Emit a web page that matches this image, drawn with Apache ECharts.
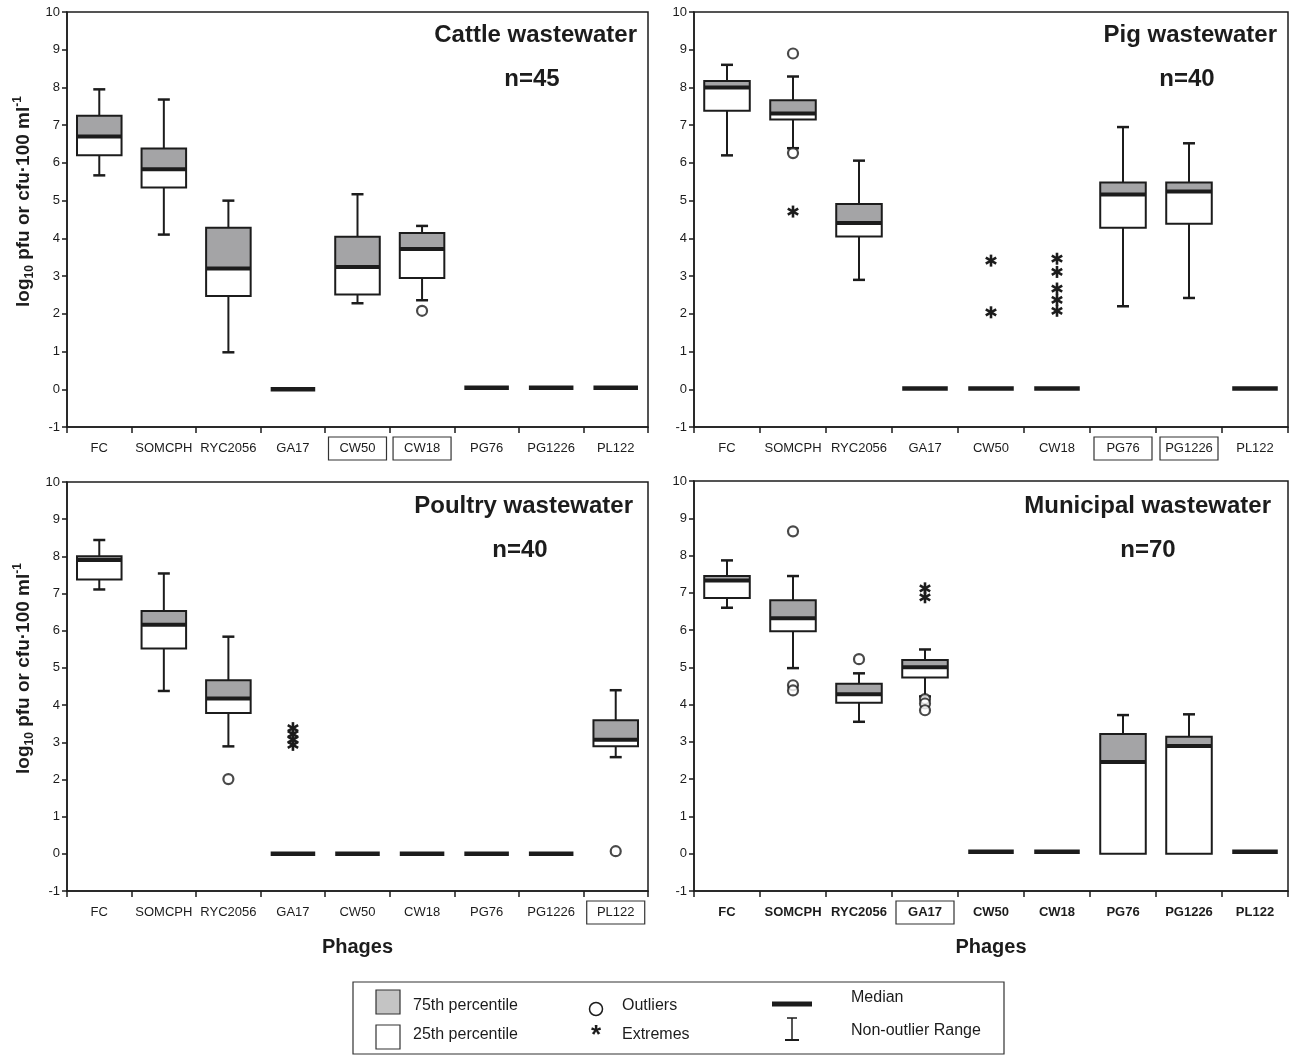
<!DOCTYPE html>
<html><head><meta charset="utf-8">
<script src="https://cdn.jsdelivr.net/npm/echarts@6/dist/echarts.min.js"></script>
<style>html,body{margin:0;padding:0;background:#fff}#c{width:1290px;height:1056px}</style>
</head><body><div id="c"></div>
<script>
const categories = ['FC','SOMCPH','RYC2056','GA17','CW50','CW18','PG76','PG1226','PL122'];

// each box: [lowerWhisker, 25th percentile, median, 75th percentile, upperWhisker]
const cattleBoxes = [
  [5.67,6.20,6.70,7.25,7.95],
  [4.10,5.35,5.83,6.38,7.68],
  [0.98,2.47,3.20,4.28,5.00],
  [0,0,0,0,0],
  [2.28,2.51,3.24,4.04,5.17],
  [2.36,2.95,3.72,4.14,4.33],
  [0.04,0.04,0.04,0.04,0.04],
  [0.04,0.04,0.04,0.04,0.04],
  [0.04,0.04,0.04,0.04,0.04]
];
const cattleOutliers = [[5,2.08]];
const cattleExtremes = [];

const pigBoxes = [
  [6.20,7.38,8.00,8.17,8.60],
  [6.39,7.15,7.31,7.66,8.29],
  [2.90,4.05,4.41,4.91,6.06],
  [0.02,0.02,0.02,0.02,0.02],
  [0.02,0.02,0.02,0.02,0.02],
  [0.02,0.02,0.02,0.02,0.02],
  [2.20,4.28,5.16,5.48,6.95],
  [2.42,4.39,5.24,5.48,6.52],
  [0.02,0.02,0.02,0.02,0.02]
];
const pigOutliers = [[1,8.90],[1,6.26]];
const pigExtremes = [[1,4.71],[4,3.41],[4,2.04],[5,3.46],[5,3.11],[5,2.67],[5,2.37],[5,2.08]];

const poultryBoxes = [
  [7.11,7.38,7.90,8.00,8.44],
  [4.38,5.52,6.16,6.53,7.54],
  [2.89,3.79,4.18,4.67,5.84],
  [0,0,0,0,0],
  [0,0,0,0,0],
  [0,0,0,0,0],
  [0,0,0,0,0],
  [0,0,0,0,0],
  [2.60,2.89,3.07,3.59,4.40]
];
const poultryOutliers = [[2,2.01],[8,0.07]];
const poultryExtremes = [[3,3.38],[3,3.22],[3,3.07],[3,2.93]];

const municipalBoxes = [
  [6.60,6.86,7.33,7.45,7.87],
  [4.98,5.97,6.32,6.80,7.45],
  [3.54,4.05,4.28,4.56,4.84],
  [4.22,4.73,5.00,5.20,5.48],
  [0.05,0.05,0.05,0.05,0.05],
  [0.05,0.05,0.05,0.05,0.05],
  [0,0,2.46,3.21,3.72],
  [0,0,2.89,3.14,3.74],
  [0.05,0.05,0.05,0.05,0.05]
];
const municipalOutliers = [[1,8.65],[1,4.52],[1,4.38],[2,5.22],[3,4.15],[3,4.03],[3,3.85]];
const municipalExtremes = [[3,7.12],[3,6.88]];

const panelTitles = ['Cattle wastewater','Pig wastewater','Poultry wastewater','Municipal wastewater'];
const panelN = ['n=45','n=40','n=40','n=70'];
const boxedLabels = [['CW50','CW18'],['PG76','PG1226'],['PL122'],['GA17']];
const legendTexts = ['75th percentile','25th percentile','Outliers','Extremes','Median','Non-outlier Range'];

const FONT = '"Liberation Sans", Arial, Helvetica, sans-serif';
const INK = '#1c1c1c';
const GRAY = '#a4a4a6';

const panels = [
  {boxes:cattleBoxes, out:cattleOutliers, ext:cattleExtremes, grid:{left:67,top:12,width:581,height:415}, yTitle:true, xTitle:false, boldX:false},
  {boxes:pigBoxes, out:pigOutliers, ext:pigExtremes, grid:{left:694,top:12,width:594,height:415}, yTitle:false, xTitle:false, boldX:false},
  {boxes:poultryBoxes, out:poultryOutliers, ext:poultryExtremes, grid:{left:67,top:482,width:581,height:409}, yTitle:true, xTitle:true, boldX:false},
  {boxes:municipalBoxes, out:municipalOutliers, ext:municipalExtremes, grid:{left:694,top:481,width:594,height:410}, yTitle:false, xTitle:true, boldX:true}
];

function renderBox(params, api){
  const i = api.value(0);
  const lo = api.value(1), q1 = api.value(2), md = api.value(3), q3 = api.value(4), hi = api.value(5);
  const cw = api.size([1,0])[0];
  const w = cw*0.69;
  const cx = api.coord([i,0])[0];
  const Y = v => api.coord([i,v])[1];
  const x0 = cx - w/2;
  const ch = [];
  const ls = {stroke:INK, lineWidth:2};
  const cap = 6;
  if (q3 > q1 || md > q1) {
    if (hi > q3) {
      ch.push({type:'line', shape:{x1:cx,y1:Y(q3),x2:cx,y2:Y(hi)}, style:ls});
      ch.push({type:'line', shape:{x1:cx-cap,y1:Y(hi),x2:cx+cap,y2:Y(hi)}, style:{stroke:INK, lineWidth:2.5}});
    }
    if (lo < q1) {
      ch.push({type:'line', shape:{x1:cx,y1:Y(q1),x2:cx,y2:Y(lo)}, style:ls});
      ch.push({type:'line', shape:{x1:cx-cap,y1:Y(lo),x2:cx+cap,y2:Y(lo)}, style:{stroke:INK, lineWidth:2.5}});
    }
    ch.push({type:'rect', shape:{x:x0,y:Y(q3),width:w,height:Y(md)-Y(q3)}, style:{fill:GRAY, stroke:null}});
    ch.push({type:'rect', shape:{x:x0,y:Y(md),width:w,height:Y(q1)-Y(md)}, style:{fill:'#fff', stroke:null}});
    ch.push({type:'rect', shape:{x:x0,y:Y(q3),width:w,height:Y(q1)-Y(q3)}, style:{fill:null, stroke:INK, lineWidth:2}});
    ch.push({type:'line', shape:{x1:x0,y1:Y(md),x2:x0+w,y2:Y(md)}, style:{stroke:INK, lineWidth:4}});
  } else {
    ch.push({type:'line', shape:{x1:x0,y1:Y(md),x2:x0+w,y2:Y(md)}, style:{stroke:INK, lineWidth:4.5}});
  }
  return {type:'group', children:ch};
}

function renderStar(params, api){
  const p = api.coord([api.value(0), api.value(1)]);
  const r = 6;
  const c = Math.cos(Math.PI/6)*r, s = Math.sin(Math.PI/6)*r;
  const st = {stroke:INK, lineWidth:2.6};
  return {type:'group', x:p[0], y:p[1], children:[
    {type:'line', shape:{x1:0,y1:-r,x2:0,y2:r}, style:st},
    {type:'line', shape:{x1:-c,y1:-s,x2:c,y2:s}, style:st},
    {type:'line', shape:{x1:-c,y1:s,x2:c,y2:-s}, style:st}
  ]};
}

const grid = [], xAxis = [], yAxis = [], series = [], graphic = [];
panels.forEach((p, k) => {
  grid.push(Object.assign({show:true, borderColor:INK, borderWidth:1.5, backgroundColor:'transparent'}, p.grid));
  const boxed = boxedLabels[k];
  xAxis.push({
    type:'category', gridIndex:k, data:categories, boundaryGap:true,
    axisLine:{onZero:false, lineStyle:{color:INK, width:1.5}},
    axisTick:{show:true, interval:0, length:6, lineStyle:{color:INK, width:1.5}},
    axisLabel:{interval:0, margin:10, color:INK,
      formatter: v => boxed.includes(v) ? '{b|'+v+'}' : '{n|'+v+'}',
      rich:{
        n:{fontFamily:FONT, fontSize:13, fontWeight:p.boldX?'bold':'normal', color:INK, padding:[5,0,5,0]},
        b:{fontFamily:FONT, fontSize:13, fontWeight:p.boldX?'bold':'normal', color:INK, padding:[5,2,5,2], width:54, align:'center', borderColor:'#333', borderWidth:1.2}
      }},
    name: p.xTitle ? 'Phages' : '', nameLocation:'middle', nameGap:46,
    nameTextStyle:{fontFamily:FONT, fontSize:20, fontWeight:'bold', color:INK}
  });
  yAxis.push({
    type:'value', gridIndex:k, min:-1, max:10, interval:1,
    splitLine:{show:false},
    axisLine:{show:true, lineStyle:{color:INK, width:1.5}},
    axisTick:{show:true, length:5, lineStyle:{color:INK, width:1.5}},
    axisLabel:{fontFamily:FONT, fontSize:13, color:INK, margin:7},
    name: p.yTitle ? '{a|log}{s|10}{a| pfu or cfu·100 ml}{p|-1}' : '',
    nameLocation:'middle', nameGap:31, nameRotate:90,
    nameTextStyle:{padding:[0,0,0,36], rich:{
      a:{fontFamily:FONT, fontSize:19, fontWeight:'bold', color:INK, lineHeight:24},
      s:{fontFamily:FONT, fontSize:12, fontWeight:'bold', color:INK, verticalAlign:'bottom', lineHeight:24},
      p:{fontFamily:FONT, fontSize:12, fontWeight:'bold', color:INK, verticalAlign:'top', lineHeight:24}
    }}
  });
  series.push({
    type:'custom', xAxisIndex:k, yAxisIndex:k, renderItem:renderBox,
    encode:{x:0, y:[1,2,3,4,5]},
    data:p.boxes.map((b,i)=>[i].concat(b)), z:2
  });
  series.push({
    type:'scatter', xAxisIndex:k, yAxisIndex:k, symbol:'circle', symbolSize:10,
    itemStyle:{color:'#fff', borderColor:INK, borderWidth:2.2},
    data:p.out, z:3
  });
  series.push({
    type:'custom', xAxisIndex:k, yAxisIndex:k, renderItem:renderStar,
    encode:{x:0, y:1}, data:p.ext, z:3
  });
});

// panel titles and sample sizes
const titlePos = [
  {tx:637, ty:35, nx:532, ny:79},
  {tx:1277, ty:35, nx:1187, ny:79},
  {tx:633, ty:506, nx:520, ny:550},
  {tx:1271, ty:506, nx:1148, ny:550}
];
titlePos.forEach((t,k)=>{
  graphic.push({type:'text', x:t.tx, y:t.ty, style:{text:panelTitles[k], font:'bold 24px '+FONT, fill:INK, textAlign:'right', textVerticalAlign:'middle'}});
  graphic.push({type:'text', x:t.nx, y:t.ny, style:{text:panelN[k], font:'bold 24px '+FONT, fill:INK, textAlign:'center', textVerticalAlign:'middle'}});
});

// legend box
const LF = '16px '+FONT;
const lg = [
  {type:'rect', shape:{x:353,y:982,width:651,height:72}, style:{fill:'#fff', stroke:'#333', lineWidth:1.2}},
  {type:'rect', shape:{x:376,y:990,width:24,height:24}, style:{fill:'#c4c4c4', stroke:'#333', lineWidth:1.2}},
  {type:'rect', shape:{x:376,y:1025,width:24,height:24}, style:{fill:'#fff', stroke:'#333', lineWidth:1.2}},
  {type:'text', x:413, y:1006, style:{text:legendTexts[0], font:LF, fill:INK, textVerticalAlign:'middle'}},
  {type:'text', x:413, y:1035, style:{text:legendTexts[1], font:LF, fill:INK, textVerticalAlign:'middle'}},
  {type:'circle', shape:{cx:596,cy:1009,r:6.5}, style:{fill:'#fff', stroke:INK, lineWidth:1.5}},
  {type:'text', x:622, y:1006, style:{text:legendTexts[2], font:LF, fill:INK, textVerticalAlign:'middle'}},
  {type:'text', x:596, y:1036, style:{text:'*', font:'bold 26px '+FONT, fill:INK, textAlign:'center', textVerticalAlign:'middle'}},
  {type:'text', x:622, y:1035, style:{text:legendTexts[3], font:LF, fill:INK, textVerticalAlign:'middle'}},
  {type:'line', shape:{x1:772,y1:1004,x2:812,y2:1004}, style:{stroke:INK, lineWidth:5}},
  {type:'text', x:851, y:998, style:{text:legendTexts[4], font:LF, fill:INK, textVerticalAlign:'middle'}},
  {type:'line', shape:{x1:792,y1:1018,x2:792,y2:1040}, style:{stroke:INK, lineWidth:1.5}},
  {type:'line', shape:{x1:787,y1:1018,x2:797,y2:1018}, style:{stroke:INK, lineWidth:1.5}},
  {type:'line', shape:{x1:785,y1:1040,x2:799,y2:1040}, style:{stroke:INK, lineWidth:2}},
  {type:'text', x:851, y:1031, style:{text:legendTexts[5], font:LF, fill:INK, textVerticalAlign:'middle'}}
];
lg.forEach(e=>graphic.push(e));

const chart = echarts.init(document.getElementById('c'), null, {renderer:'canvas'});
chart.setOption({
  animation:false,
  backgroundColor:'#fff',
  textStyle:{fontFamily:FONT},
  grid, xAxis, yAxis, series, graphic
});
</script></body></html>
